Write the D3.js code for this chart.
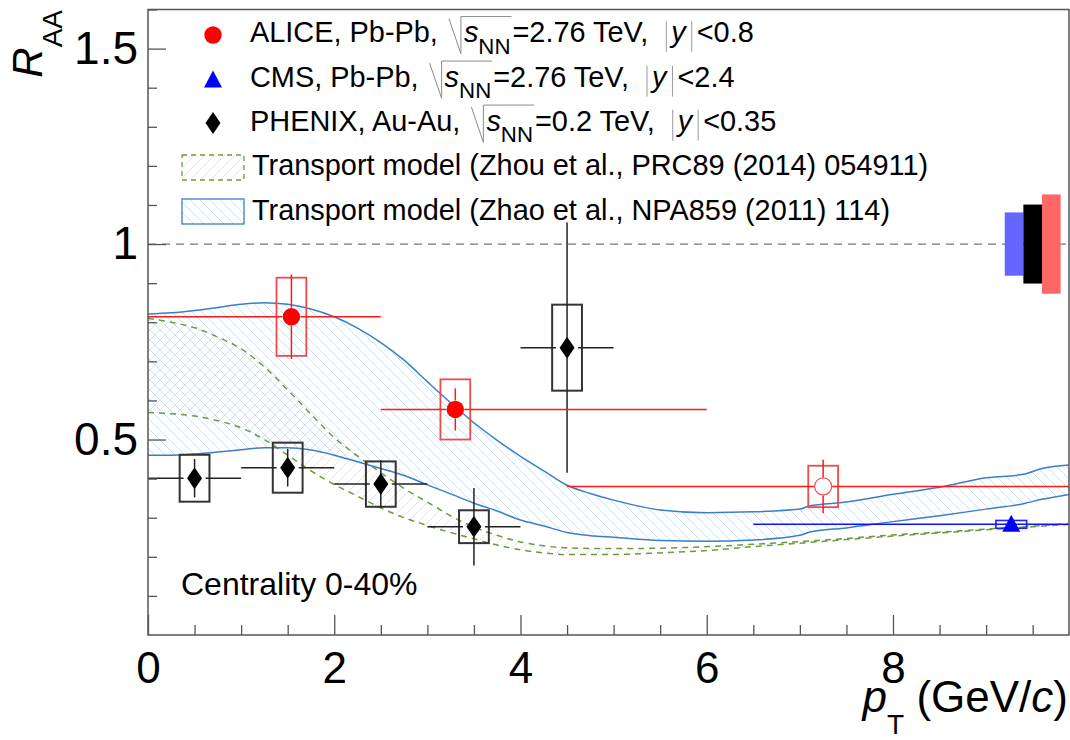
<!DOCTYPE html>
<html><head><meta charset="utf-8">
<script src="https://cdn.jsdelivr.net/npm/d3@7"></script>
<style>
html,body{margin:0;padding:0;background:#fff;}
svg{display:block;font-family:"Liberation Sans",Arial,Helvetica,sans-serif;}
text{white-space:pre;}
</style></head><body>
<svg id="chart" width="1070" height="740"></svg>
<script>
// ---- ALICE, Pb-Pb 2.76 TeV, |y|<0.8 ----
const alicePt     = [1.54, 3.3, 7.25];
const alicePtLow  = [0, 2.5, 4.5];
const alicePtHigh = [2.5, 6, 10];
const aliceRaa    = [0.814, 0.577, 0.38];
const aliceStat   = [0.108, 0.054, 0.068];
const aliceSys    = [0.100, 0.077, 0.053];
const aliceOpen   = [false, false, true];

// ---- CMS, Pb-Pb 2.76 TeV, |y|<2.4 ----
const cmsPt     = [9.27];
const cmsPtLow  = [6.5];
const cmsPtHigh = [30];
const cmsRaa    = [0.283];
const cmsStat   = [0.015];
const cmsSys    = [0.010];

// ---- PHENIX, Au-Au 0.2 TeV, |y|<0.35 ----
const phenixPt     = [0.5, 1.5, 2.5, 3.5, 4.5];
const phenixPtLow  = [0, 1, 2, 3, 4];
const phenixPtHigh = [1, 2, 3, 4, 5];
const phenixRaa    = [0.401, 0.428, 0.386, 0.277, 0.735];
const phenixStat   = [0.049, 0.048, 0.061, 0.099, 0.320];
const phenixSys    = [0.060, 0.064, 0.058, 0.042, 0.110];

// ---- global (correlated) uncertainties around unity: CMS, PHENIX, ALICE ----
const globalNames = ["CMS", "PHENIX", "ALICE"];
const globalPtLow  = [9.2, 9.4, 9.6];
const globalPtHigh = [9.4, 9.6, 9.8];
const globalUnc    = [0.081, 0.101, 0.127];

// ---- transport model, Zhao et al. ----
const zhaoPt   = [0, 0.25, 0.5, 0.75, 1.0, 1.25, 1.5, 1.75, 2.0, 2.25, 2.5, 2.75, 3.0, 3.25, 3.5, 3.75, 4.0, 4.25, 4.5, 4.75, 5.0, 5.5, 6.0, 6.5, 7.0, 7.1, 7.5, 8.0, 8.5, 9.0, 9.4, 9.6, 9.9];
const zhaoHigh = [0.821, 0.824, 0.83, 0.838, 0.846, 0.85, 0.846, 0.834, 0.814, 0.785, 0.748, 0.703, 0.648, 0.594, 0.543, 0.498, 0.457, 0.42, 0.383, 0.362, 0.345, 0.32, 0.313, 0.315, 0.322, 0.33, 0.34, 0.36, 0.378, 0.402, 0.411, 0.426, 0.435];
const zhaoLow  = [0.46, 0.46, 0.463, 0.468, 0.474, 0.479, 0.479, 0.473, 0.46, 0.443, 0.426, 0.408, 0.384, 0.361, 0.337, 0.317, 0.294, 0.279, 0.262, 0.254, 0.25, 0.242, 0.24, 0.243, 0.255, 0.263, 0.274, 0.29, 0.305, 0.322, 0.336, 0.347, 0.36];

// ---- transport model, Zhou et al. ----
const zhouPt   = [0, 0.25, 0.5, 0.75, 1.0, 1.25, 1.5, 1.75, 2.0, 2.25, 2.5, 2.75, 3.0, 3.25, 3.5, 3.75, 4.0, 4.25, 4.5, 5.0, 5.5, 6.0, 6.5, 7.0, 7.5, 8.0, 8.5, 9.0, 9.5, 9.9];
const zhouHigh = [0.81, 0.80, 0.786, 0.762, 0.732, 0.686, 0.627, 0.565, 0.505, 0.458, 0.415, 0.375, 0.34, 0.305, 0.276, 0.255, 0.238, 0.228, 0.223, 0.221, 0.222, 0.226, 0.232, 0.239, 0.247, 0.256, 0.263, 0.271, 0.278, 0.285];
const zhouLow  = [0.569, 0.566, 0.56, 0.548, 0.53, 0.5, 0.46, 0.42, 0.385, 0.355, 0.325, 0.3, 0.28, 0.262, 0.246, 0.23, 0.218, 0.21, 0.206, 0.206, 0.21, 0.216, 0.226, 0.235, 0.244, 0.253, 0.261, 0.269, 0.277, 0.283];

// ---- axes ----
const xMajorTicks = [0, 2, 4, 6, 8];
const yMajorTicks = [0.5, 1, 1.5];
const yTickLabels = ["0.5", "1", "1.5"];

// ================= drawing =================
const M = {left: 148, right: 1069, top: 9.5, bottom: 635};
const x = d3.scaleLinear().domain([0, 9.89]).range([M.left, M.right]);
const y = d3.scaleLinear().domain([0, 1.6]).range([M.bottom, M.top]);
const svg = d3.select("#chart");
const defs = svg.append("defs");
defs.append("clipPath").attr("id", "plotClip").append("rect")
  .attr("x", M.left).attr("y", M.top).attr("width", M.right - M.left).attr("height", M.bottom - M.top);

// diagonal hatching used for the model bands
function hatch(id, color, dir) {
  const s = 10;
  const p = defs.append("pattern").attr("id", id).attr("patternUnits", "userSpaceOnUse")
    .attr("width", s).attr("height", s);
  const d = dir === "back"
    ? `M-1,-1L${s + 1},${s + 1}M-1,${s - 1}L1,${s + 1}M${s - 1},-1L${s + 1},1`
    : `M-1,${s + 1}L${s + 1},-1M-1,1L1,-1M${s - 1},${s + 1}L${s + 1},${s - 1}`;
  p.append("path").attr("d", d).attr("stroke", color).attr("stroke-width", 0.9).attr("fill", "none");
}
hatch("hatchBlue", "#c2dbf1", "back");
hatch("hatchGreen", "#d6e9c2", "fwd");

const BLUE_LINE = "#3b7ec6", GREEN_LINE = "#6c9b3e";
const plot = svg.append("g").attr("clip-path", "url(#plotClip)");

// model bands
function band(pt, lo, hi, fill) {
  const area = d3.area().x((d, i) => x(pt[i])).y0((d, i) => y(lo[i])).y1((d, i) => y(hi[i]))
    .curve(d3.curveMonotoneX);
  plot.append("path").datum(pt).attr("d", area).attr("fill", fill).attr("stroke", "none");
}
function edge(pt, vals, color, dash) {
  const line = d3.line().x((d, i) => x(pt[i])).y((d, i) => y(vals[i])).curve(d3.curveMonotoneX);
  plot.append("path").datum(pt).attr("d", line).attr("fill", "none")
    .attr("stroke", color).attr("stroke-width", 1.5).attr("stroke-dasharray", dash);
}
band(zhaoPt, zhaoLow, zhaoHigh, "url(#hatchBlue)");
band(zhouPt, zhouLow, zhouHigh, "url(#hatchGreen)");
edge(zhouPt, zhouHigh, GREEN_LINE, "6,5");
edge(zhouPt, zhouLow, GREEN_LINE, "6,5");
edge(zhaoPt, zhaoHigh, BLUE_LINE, null);
edge(zhaoPt, zhaoLow, BLUE_LINE, null);

// unity reference
plot.append("line").attr("x1", M.left).attr("x2", M.right).attr("y1", y(1)).attr("y2", y(1))
  .attr("stroke", "#777").attr("stroke-width", 1.2).attr("stroke-dasharray", "8,6");

// error bars with a gap around the marker
function errors(g, pt, lo, hi, raa, stat, color, width, gx, gy) {
  pt.forEach((p, i) => {
    const cx = x(p), cy = y(raa[i]);
    const xl = x(lo[i]), xr = x(hi[i]);
    const yt = y(raa[i] + stat[i]), yb = y(raa[i] - stat[i]);
    const seg = (x1, y1, x2, y2) => g.append("line").attr("x1", x1).attr("y1", y1).attr("x2", x2).attr("y2", y2)
      .attr("stroke", color).attr("stroke-width", width);
    if (cx - gx > xl) seg(xl, cy, cx - gx, cy);
    if (cx + gx < xr) seg(cx + gx, cy, xr, cy);
    if (cy - gy > yt) seg(cx, yt, cx, cy - gy);
    if (cy + gy < yb) seg(cx, cy + gy, cx, yb);
  });
}
function sysBoxes(g, pt, raa, sys, halfW, color, width) {
  pt.forEach((p, i) => {
    g.append("rect").attr("x", x(p - halfW)).attr("width", x(p + halfW) - x(p - halfW))
      .attr("y", y(raa[i] + sys[i])).attr("height", y(raa[i] - sys[i]) - y(raa[i] + sys[i]))
      .attr("fill", "none").attr("stroke", color).attr("stroke-width", width);
  });
}

const diamondPath = "M0,-11L7.5,0L0,11L-7.5,0Z";
const trianglePath = "M0,-9.5L9,7.5L-9,7.5Z";

// PHENIX
sysBoxes(plot, phenixPt, phenixRaa, phenixSys, 0.16, "#333", 2);
errors(plot, phenixPt, phenixPtLow, phenixPtHigh, phenixRaa, phenixStat, "#222", 1.5, 11, 10);
phenixPt.forEach((p, i) => plot.append("path").attr("d", diamondPath)
  .attr("transform", `translate(${x(p)},${y(phenixRaa[i])})`).attr("fill", "#000"));

// ALICE
sysBoxes(plot, alicePt, aliceRaa, aliceSys, 0.16, "#f24a4a", 1.8);
errors(plot, alicePt, alicePtLow, alicePtHigh, aliceRaa, aliceStat, "#ff1a1a", 1.5, 9, 9);
alicePt.forEach((p, i) => {
  const c = plot.append("circle").attr("cx", x(p)).attr("cy", y(aliceRaa[i]));
  if (aliceOpen[i]) c.attr("r", 8.5).attr("fill", "#fff").attr("stroke", "#f05050").attr("stroke-width", 1.2);
  else c.attr("r", 8.7).attr("fill", "#ff0000");
});

// CMS
sysBoxes(plot, cmsPt, cmsRaa, cmsSys, 0.165, "#1f1fff", 1.6);
errors(plot, cmsPt, cmsPtLow, cmsPtHigh, cmsRaa, cmsStat, "#1010ff", 1.5, 0, 9);
cmsPt.forEach((p, i) => plot.append("path").attr("d", trianglePath)
  .attr("transform", `translate(${x(p)},${y(cmsRaa[i])})`).attr("fill", "#0000ff"));

// global uncertainty boxes
const globalColors = ["#6666ff", "#000000", "#ff6666"];
globalNames.forEach((n, i) => {
  plot.append("rect").attr("x", x(globalPtLow[i])).attr("width", x(globalPtHigh[i]) - x(globalPtLow[i]))
    .attr("y", y(1 + globalUnc[i])).attr("height", y(1 - globalUnc[i]) - y(1 + globalUnc[i]))
    .attr("fill", globalColors[i]);
});

// ---- axes ----
const AX = "#555";
const axG = svg.append("g");
axG.append("rect").attr("x", M.left).attr("y", M.top).attr("width", M.right - M.left).attr("height", M.bottom - M.top)
  .attr("fill", "none").attr("stroke", AX).attr("stroke-width", 1.5);

const xMinor = d3.range(0.5, 9.9, 0.5).filter(v => xMajorTicks.indexOf(v) < 0);
const yMinor = d3.range(1, 17).map(v => v / 10).filter(v => yMajorTicks.indexOf(v) < 0);

const xAxisMinor = axG.append("g").attr("transform", `translate(0,${M.bottom})`)
  .call(d3.axisBottom(x).tickValues(xMinor).tickSize(-10).tickFormat(""));
const xAxis = axG.append("g").attr("transform", `translate(0,${M.bottom})`)
  .call(d3.axisBottom(x).tickValues(xMajorTicks).tickSize(-20).tickPadding(17).tickFormat(d3.format("d")));
const yAxisMinor = axG.append("g").attr("transform", `translate(${M.left},0)`)
  .call(d3.axisLeft(y).tickValues(yMinor).tickSize(-9).tickFormat(""));
const yAxis = axG.append("g").attr("transform", `translate(${M.left},0)`)
  .call(d3.axisLeft(y).tickValues(yMajorTicks).tickSize(-18).tickPadding(10)
    .tickFormat((d, i) => yTickLabels[i]));
[xAxisMinor, xAxis, yAxisMinor, yAxis].forEach(a => {
  a.select(".domain").remove();
  a.selectAll(".tick line").attr("stroke", AX).attr("stroke-width", 1.3);
  a.selectAll(".tick text").attr("fill", "#000").attr("font-family", "Liberation Sans, Arial, sans-serif");
});
xAxis.selectAll(".tick text").attr("font-size", 44);
yAxis.selectAll(".tick text").attr("font-size", 46);

// axis titles
const yt = svg.append("text").attr("transform", "translate(42,10) rotate(-90)")
  .attr("text-anchor", "end").attr("fill", "#000");
yt.append("tspan").attr("font-size", 42).attr("font-style", "italic").text("R");
yt.append("tspan").attr("font-size", 28).attr("dy", 20).text("AA");

const xt = svg.append("text").attr("x", 1068).attr("y", 712).attr("text-anchor", "end").attr("fill", "#000");
xt.append("tspan").attr("font-size", 44).attr("font-style", "italic").text("p");
xt.append("tspan").attr("font-size", 28).attr("dy", 22).text("T");
xt.append("tspan").attr("font-size", 44).attr("dy", -22).text(" (GeV/");
xt.append("tspan").attr("font-size", 44).attr("font-style", "italic").text("c");
xt.append("tspan").attr("font-size", 44).text(")");

// centrality label
svg.append("text").attr("x", 181).attr("y", 595).attr("font-size", 32).attr("fill", "#000").text("Centrality 0-40%");

// ---- legend ----
const FS = 28.9;
const leg = svg.append("g");
function richLine(x0, base, parts) {
  let cx = x0, sq = null;
  const top = base - FS * 0.88, bot = base + FS * 0.41;
  parts.forEach(p => {
    if (p.sqrt === "open") {
      leg.append("path").attr("d", `M${cx + 3},${top + 2}L${cx + 15},${bot}L${cx + 15},${top}`)
        .attr("fill", "none").attr("stroke", "#8a8a8a").attr("stroke-width", 1);
      sq = cx + 15; cx += 18; return;
    }
    if (p.sqrt === "close") {
      leg.append("line").attr("x1", sq).attr("x2", cx + 1).attr("y1", top).attr("y2", top)
        .attr("stroke", "#8a8a8a").attr("stroke-width", 1);
      cx += 2; return;
    }
    if (p.bar) {
      cx += p.bar[0];
      leg.append("line").attr("x1", cx).attr("x2", cx).attr("y1", base - FS * 0.72).attr("y2", base + FS * 0.35)
        .attr("stroke", "#9a9a9a").attr("stroke-width", 1);
      cx += p.bar[1]; return;
    }
    const t = leg.append("text").attr("x", cx).attr("y", base + (p.sub ? FS * 0.41 : 0))
      .attr("font-size", p.sub ? FS * 0.77 : FS).attr("fill", "#000")
      .attr("font-style", p.it ? "italic" : null).text(p.t);
    cx += t.node().getComputedTextLength();
  });
}
function expParts(head, energy, rap) {
  return [{t: head}, {sqrt: "open"}, {t: "s", it: true}, {t: "NN", sub: true}, {sqrt: "close"},
          {t: "=" + energy + " TeV, "}, {bar: [10, 5]}, {t: "y", it: true}, {bar: [6, 5]}, {t: "<" + rap}];
}
const legX = 250, rows = [42, 86.5, 130.5, 175, 219.5];
richLine(legX, rows[0], expParts("ALICE, Pb-Pb, ", "2.76", "0.8"));
richLine(legX, rows[1], expParts("CMS, Pb-Pb, ", "2.76", "2.4"));
richLine(legX, rows[2], expParts("PHENIX, Au-Au, ", "0.2", "0.35"));
richLine(legX + 2, rows[3], [{t: "Transport model (Zhou et al., PRC89 (2014) 054911)"}]);
richLine(legX + 2, rows[4], [{t: "Transport model (Zhao et al., NPA859 (2011) 114)"}]);

leg.append("circle").attr("cx", 213).attr("cy", 35).attr("r", 8.7).attr("fill", "#ff0000");
leg.append("path").attr("d", trianglePath).attr("transform", "translate(213,80)").attr("fill", "#0000ff");
leg.append("path").attr("d", diamondPath).attr("transform", "translate(213,123)").attr("fill", "#000");
leg.append("rect").attr("x", 182).attr("y", 155).attr("width", 62).attr("height", 25)
  .attr("fill", "url(#hatchGreen)").attr("stroke", GREEN_LINE).attr("stroke-width", 1.3).attr("stroke-dasharray", "5,4");
leg.append("rect").attr("x", 182).attr("y", 199).attr("width", 62).attr("height", 25)
  .attr("fill", "url(#hatchBlue)").attr("stroke", BLUE_LINE).attr("stroke-width", 1.3);
</script></body></html>
